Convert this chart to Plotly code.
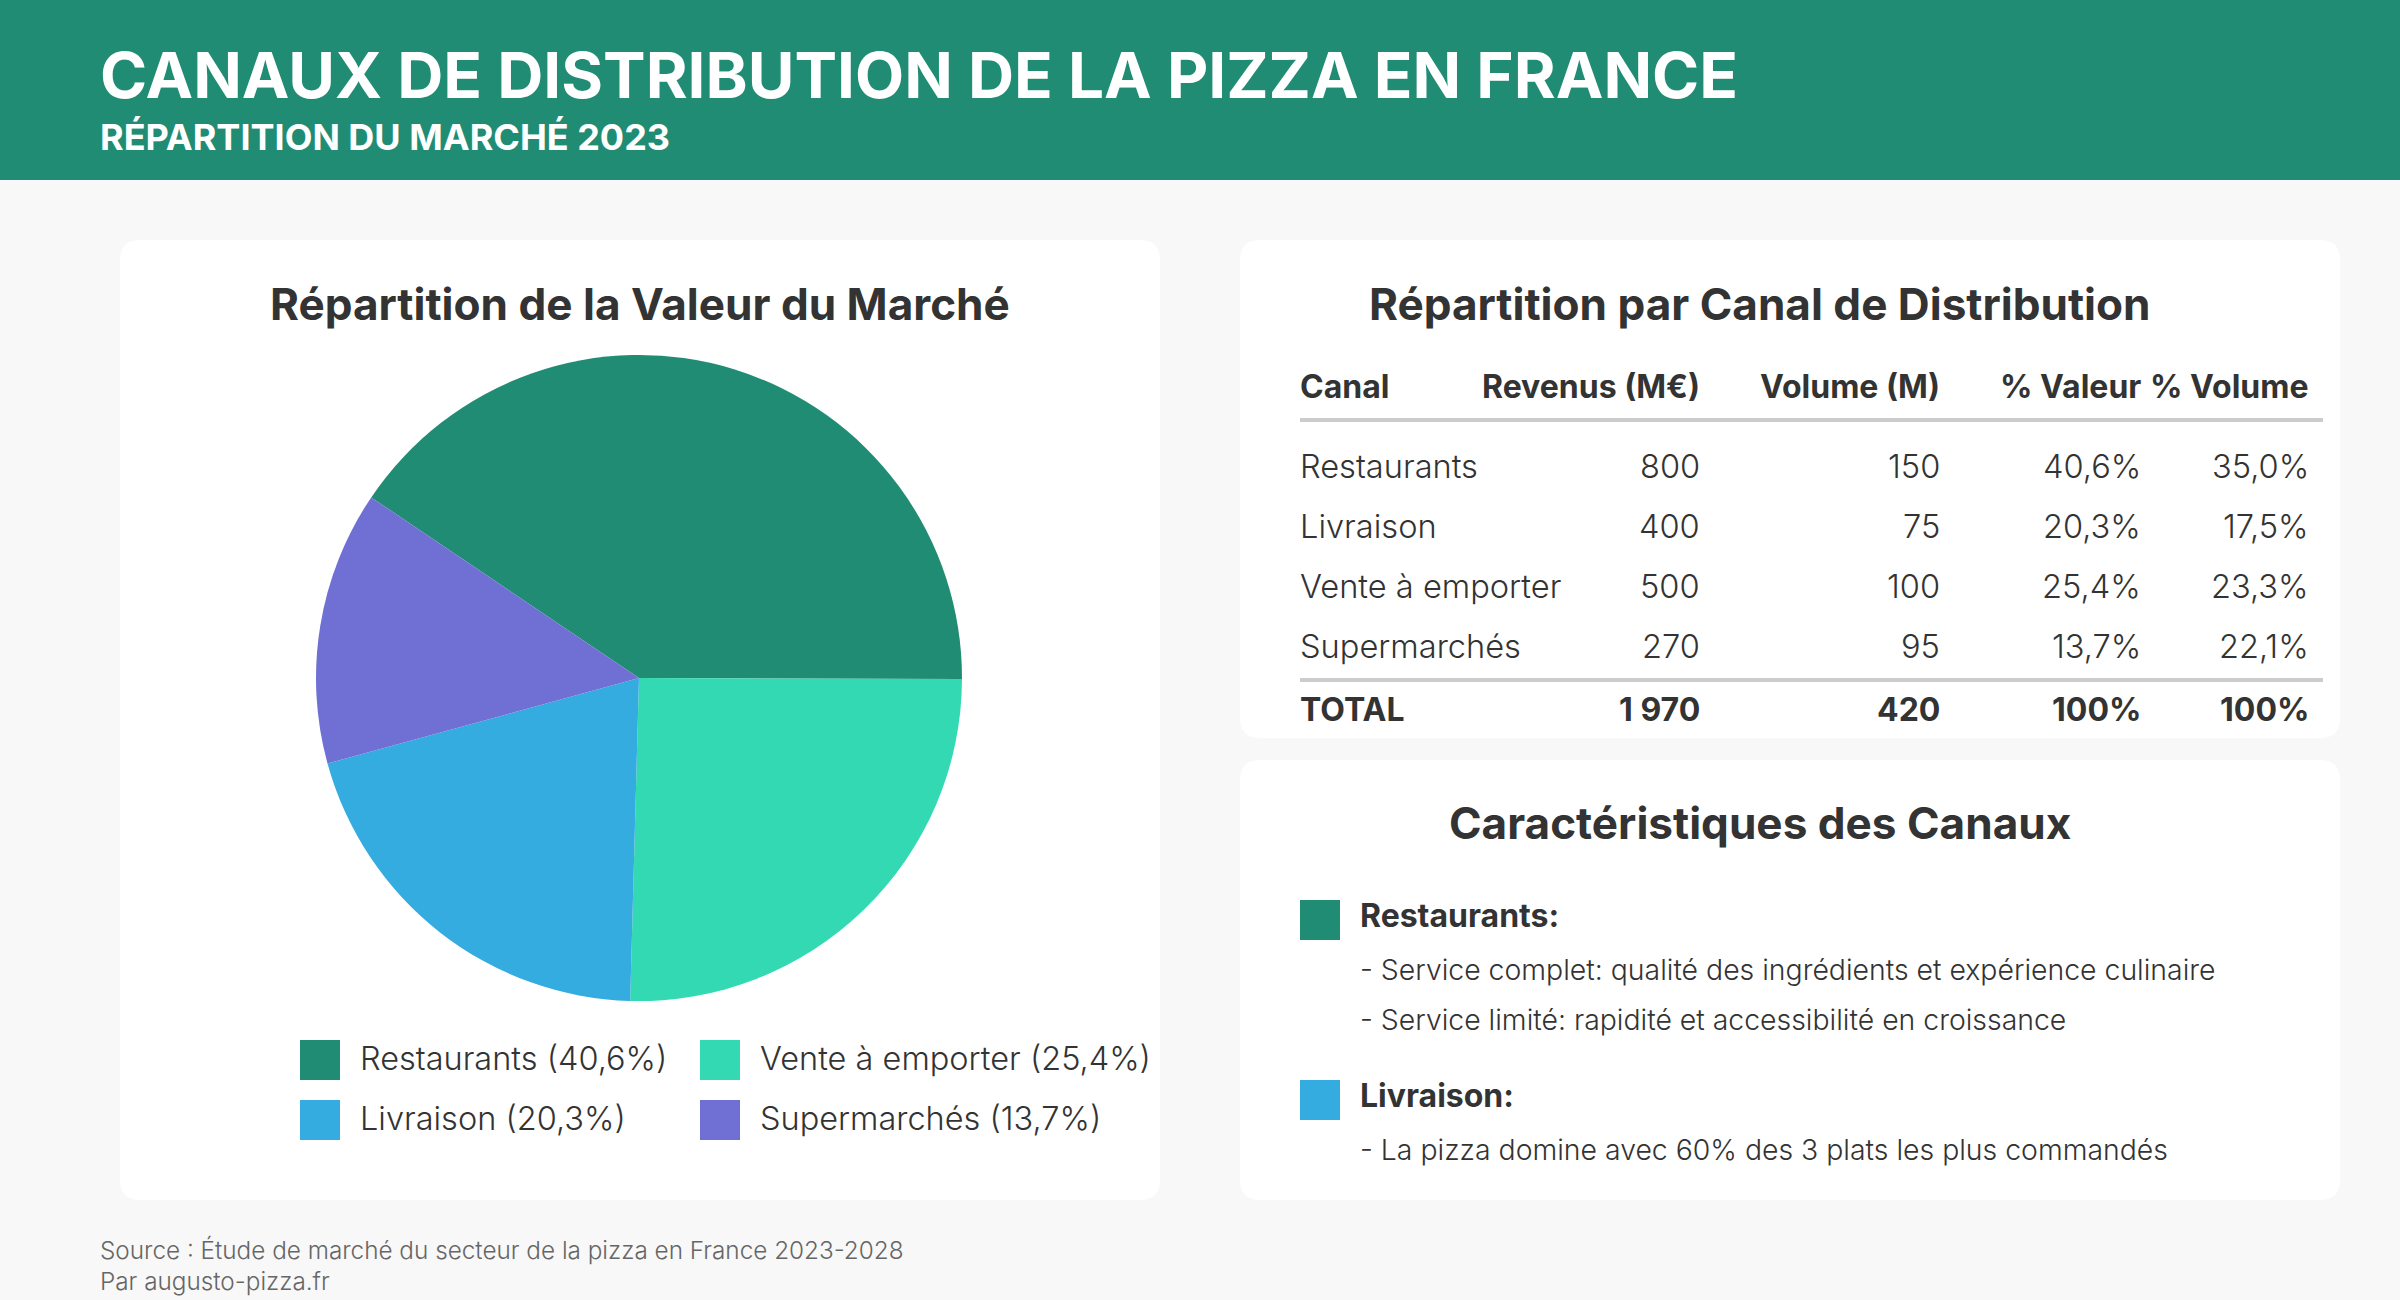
import plotly.graph_objects as go

W, H = 2400, 1300
GREEN, TEAL, BLUE, PURPLE = "#218C74", "#33D9B2", "#34ACE0", "#706FD3"
TXT = "#333333"
FONT = "Inter"
REG = 300

# Data
channels = ["Restaurants", "Vente à emporter", "Livraison", "Supermarchés"]
market_value = [800, 500, 400, 270]
slice_colors = [GREEN, TEAL, BLUE, PURPLE]
legend_shares = ["40,6%", "25,4%", "20,3%", "13,7%"]

table_header = ["Canal", "Revenus (M€)", "Volume (M)", "% Valeur", "% Volume"]
table_canal = ["Restaurants", "Livraison", "Vente à emporter", "Supermarchés"]
table_revenus = ["800", "400", "500", "270"]
table_volume = ["150", "75", "100", "95"]
table_pct_valeur = ["40,6%", "20,3%", "25,4%", "13,7%"]
table_pct_volume = ["35,0%", "17,5%", "23,3%", "22,1%"]
table_total = ["TOTAL", "1 970", "420", "100%", "100%"]

def X(p): return p / W
def Y(p): return 1 - p / H

shapes, annots = [], []

def rect(x0, y0, x1, y1, color):
    shapes.append(dict(type="rect", xref="paper", yref="paper", x0=X(x0), x1=X(x1), y0=Y(y0), y1=Y(y1),
                       fillcolor=color, line=dict(width=0), layer="below"))

def rrect(x0, y0, x1, y1, r, color):
    a, b, c, d = X(x0), X(x1), Y(y0), Y(y1)
    rx, ry = r / W, r / H
    path = (f"M {a+rx} {c} L {b-rx} {c} Q {b} {c} {b} {c-ry} L {b} {d+ry} Q {b} {d} {b-rx} {d} "
            f"L {a+rx} {d} Q {a} {d} {a} {d+ry} L {a} {c-ry} Q {a} {c} {a+rx} {c} Z")
    shapes.append(dict(type="path", xref="paper", yref="paper", path=path, fillcolor=color,
                       line=dict(width=0), layer="below"))

def text(x, y, s, size, color=TXT, weight=REG, anchor="left"):
    annots.append(dict(xref="paper", yref="paper", x=X(x), y=Y(y), text=s, showarrow=False,
                       xanchor=anchor, yanchor="middle", align=anchor, borderpad=0, borderwidth=0,
                       font=dict(family=FONT, size=size, color=color, weight=weight)))

# Background blocks
rect(0, 0, W, 180, GREEN)
rrect(120, 240, 1160, 1200, 20, "#FFFFFF")
rrect(1240, 240, 2340, 738, 20, "#FFFFFF")
rrect(1240, 760, 2340, 1200, 20, "#FFFFFF")

# Header
text(100, 74, "CANAUX DE DISTRIBUTION DE LA PIZZA EN FRANCE", 63.85, "#FFFFFF", 700)
text(100, 137, "RÉPARTITION DU MARCHÉ 2023", 36, "#FFFFFF", 700)

# Card titles
text(640, 304, "Répartition de la Valeur du Marché", 44.1, TXT, 700, "center")
text(1760, 304, "Répartition par Canal de Distribution", 44.1, TXT, 700, "center")
text(1760, 823, "Caractéristiques des Canaux", 44.1, TXT, 700, "center")

# Legend
lx = [300, 700, 300, 700]
ly = [1040, 1040, 1100, 1100]
for i, name in enumerate(channels):
    rect(lx[i], ly[i], lx[i] + 40, ly[i] + 40, slice_colors[i])
    text(lx[i] + 60, ly[i] + 18, f"{name} ({legend_shares[i]})", 32.5)

# Table
col_right = [1300, 1700, 1940, 2141, 2309]
for j, h in enumerate(table_header):
    text(col_right[j], 386.5, h, 32, TXT, 700, "left" if j == 0 else "right")
rect(1300, 418, 2323, 422, "#CCCCCC")
rows_y = [466, 526, 586, 646]
cols = [table_canal, table_revenus, table_volume, table_pct_valeur, table_pct_volume]
for j, col in enumerate(cols):
    for i, v in enumerate(col):
        text(col_right[j], rows_y[i], v, 32.6, TXT, REG, "left" if j == 0 else "right")
rect(1300, 678, 2323, 682, "#CCCCCC")
for j, v in enumerate(table_total):
    text(col_right[j], 710, v, 32, TXT, 700, "left" if j == 0 else "right")

# Characteristics
rect(1300, 900, 1340, 940, GREEN)
text(1360, 915.5, "Restaurants:", 32, TXT, 700)
text(1360, 969, "- Service complet: qualité des ingrédients et expérience culinaire", 28.4)
text(1360, 1019, "- Service limité: rapidité et accessibilité en croissance", 28.4)
rect(1300, 1080, 1340, 1120, BLUE)
text(1360, 1095.5, "Livraison:", 32, TXT, 700)
text(1360, 1149, "- La pizza domine avec 60% des 3 plats les plus commandés", 28.4)

# Source
text(100, 1250, "Source : Étude de marché du secteur de la pizza en France 2023-2028", 24.3, "#666666")
text(100, 1280.5, "Par augusto-pizza.fr", 24.3, "#666666")

fig = go.Figure(go.Pie(
    labels=channels, values=market_value, sort=False, direction="clockwise", rotation=-56,
    marker=dict(colors=slice_colors, line=dict(width=0)), textinfo="none", hoverinfo="label+percent",
    showlegend=False,
    domain=dict(x=[X(316), X(962)], y=[Y(1001.5), Y(354.5)]),
))
fig.update_layout(width=W, height=H, margin=dict(l=0, r=0, t=0, b=0), paper_bgcolor="#F8F8F8",
                  plot_bgcolor="#F8F8F8", shapes=shapes, annotations=annots, showlegend=False,
                  font=dict(family=FONT))
fig.write_html("out.html", config=dict(displayModeBar=False),
               post_script="document.body.style.margin='0';document.body.style.background='#F8F8F8';")
